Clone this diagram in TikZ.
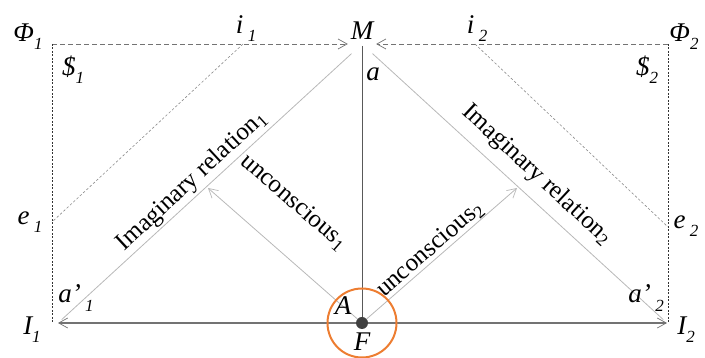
\documentclass[tikz,border=0pt]{standalone}
\usepackage{fontspec}
\setmainfont{Liberation Serif}
\newfontfamily\tnr{Liberation Serif}
\usetikzlibrary{arrows.meta}
\definecolor{orangec}{HTML}{ED7D31}
\definecolor{dotgrey}{HTML}{404040}
\newcommand{\sbs}[1]{\raisebox{-0.3em}{\fontsize{17}{17}\selectfont\tnr\itshape #1}}
\begin{document}
\begin{tikzpicture}[x=1pt,y=1pt,
  lab/.style={font=\fontsize{27}{27}\selectfont\tnr\itshape, inner sep=0pt},
  rel/.style={font=\fontsize{25}{25}\selectfont\tnr, inner sep=0pt},
  barb/.style={-{Straight Barb[length=9pt,width=10pt,line width=0.7pt]}},
  topdash/.style={draw=black!55, line width=0.8pt, dash pattern=on 5pt off 3pt},
  sidedash/.style={draw=black!80, line width=0.7pt, dash pattern=on 2pt off 1.5pt},
  diagdot/.style={draw=black!45, line width=0.6pt, dash pattern=on 2.5pt off 2pt},
  light/.style={draw=black!28, line width=0.8pt},
]
\useasboundingbox (0,0) rectangle (705,358);
% points
\coordinate (P1) at (52,314);
\coordinate (P2) at (668,314);
\coordinate (M) at (362,312);
\node[circle, minimum size=28pt, inner sep=0pt] (Mc) at (362,314) {};
\coordinate (i1) at (243,314);
\coordinate (i2) at (475,314);
\coordinate (e1) at (52,136);
\coordinate (e2) at (668,131);
\coordinate (Q1) at (52,35);
\coordinate (Q2) at (668,35);
\coordinate (I1) at (58,35);
\coordinate (I2) at (667,35);
\coordinate (u1) at (208,170);
\coordinate (u2) at (517,170);
\node[circle, minimum size=12pt, inner sep=0pt] (F) at (362,35) {};
% dashed frame
\draw[topdash, barb] (P1) -- (Mc);
\draw[topdash, barb] (P2) -- (Mc);
\draw[sidedash] (P1) -- (Q1);
\draw[sidedash] (P2) -- (Q2);
\draw[diagdot] (i1) -- (e1);
\draw[diagdot] (i2) -- (e2);
% imaginary relations
\draw[light, shorten >=5pt] (Mc) -- (I1);
\draw[light, shorten >=5pt] (Mc) -- (I2);
% unconscious
\draw[light, barb] (F) -- (u1);
\draw[light, barb] (F) -- (u2);
% vertical and horizontal
\draw[draw=black!65, line width=0.8pt] (M) -- (F.center);
\draw[draw=black!55, line width=1.3pt, barb] (F) -- (I1);
\draw[draw=black!55, line width=1.3pt, barb] (F) -- (I2);
% orange circle and dot
\node[circle, draw=orangec, line width=2pt, minimum size=69pt, inner sep=0pt] (O) at (362,35) {};
\node[circle, fill=dotgrey, minimum size=12pt, inner sep=0pt] (Fd) at (F) {};
% labels
\node[lab] (LPhi1) at (28,321) {Φ\sbs{1}};
\node[lab] (LPhi2) at (684,321) {Φ\sbs{2}};
\node[lab] (Li1) at (246,329) {i\,\sbs{1}};
\node[lab] (Li2) at (477,329) {i\,\sbs{2}};
\node[lab] (LM) at (362,327) {M};
\node[lab] (LS1) at (73,288) {\$\sbs{1}};
\node[lab] (LS2) at (647,288) {\$\sbs{2}};
\node[lab] (La) at (373,284) {a};
\node[lab] (Le1) at (30,136) {e\,\sbs{1}};
\node[lab] (Le2) at (686,132) {e\,\sbs{2}};
\node[lab] (La1) at (76,60) {a’\,\sbs{1}};
\node[lab] (La2) at (646,60) {a’\,\sbs{2}};
\node[lab] (LI1) at (32,28) {I\sbs{1}};
\node[lab] (LI2) at (686,28) {I\sbs{2}};
\node[lab] (LA) at (343,52) {A};
\node[lab] (LF) at (362,16) {F};
% rotated texts
\node[rel, rotate=42.8] (R1) at (192,177) {Imaginary relation\textsubscript{1}};
\node[rel, rotate=-42.8] (R2) at (537,183) {Imaginary relation\textsubscript{2}};
\node[rel, rotate=-41] (U1) at (294,156) {unconscious\textsubscript{1}};
\node[rel, rotate=41] (U2) at (430,109) {unconscious\textsubscript{2}};
\end{tikzpicture}
\end{document}
